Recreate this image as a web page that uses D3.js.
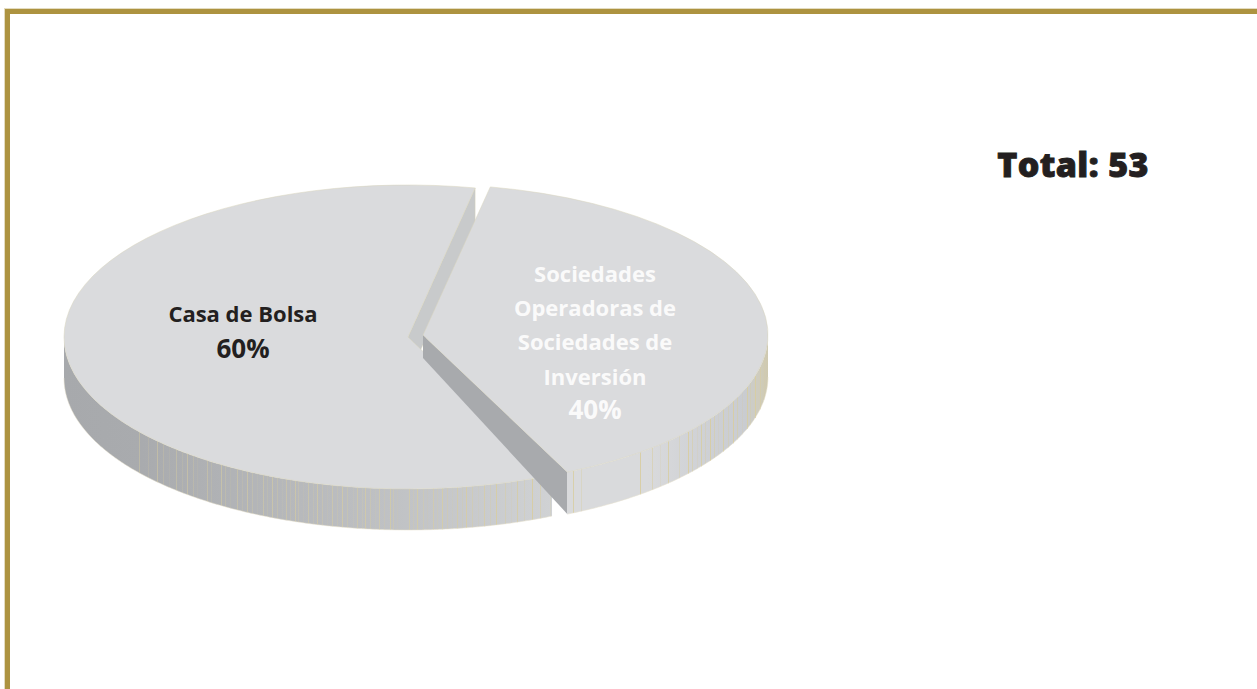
<!DOCTYPE html>
<html><head><meta charset="utf-8">
<script src="https://cdn.jsdelivr.net/npm/d3@7"></script>
<style>html,body{margin:0;padding:0;background:#fff;overflow:hidden}svg{display:block}text{font-family:"Open Sans",sans-serif;font-weight:700;text-anchor:middle}</style>
</head><body><svg id="c" width="1257" height="689"></svg>
<script>
// values
const categories = ["Sociedades Operadoras de Sociedades de Inversión", "Casa de Bolsa"];
const shares = [40, 60];
const total = 53;
const labelLinesRight = ["Sociedades", "Operadoras de", "Sociedades de", "Inversión"];
const labelLinesLeft = ["Casa de Bolsa"];
// decorative rib positions (x pixel)
const ribsLeft = [139,148,157,163,169,176,182,187,193,197,207,211,221,225,230,237,242,247,252,257,263,267,272,277,282,286,290,295,298,303,308,313,317,322,327,332,337,342,347,353,357,362,365,370,375,379,384,390,393,397,409,413,417,423,427,433,437,442,447,452,457,462,466,472,478,484,490,496,505,511,517,524,532,540,550];
const ribsRight = [573,581,640,652,660,668,679,688,692,697,701,705,710,714,718,723,728,733,737,742,747,750,755,760,764];

const svg = d3.select("#c");
const W = 1257, H = 689;
const deg = Math.PI/180;
const startAt = 11.25*deg;
const pie = d3.pie().sort(null).value(d=>d).startAngle(startAt).endAngle(startAt+2*Math.PI);
const arcs = pie(shares);
const R = 100;
const arc = d3.arc().innerRadius(0).outerRadius(R);
const geo = [
  {cx:423, cy:335, rx:345, ry:151, depth:42}, // right slice
  {cx:408, cy:337, rx:344, ry:152, depth:41}  // left slice
];
const ex = (g,a)=>g.cx + g.rx*Math.sin(a);
const ey = (g,a)=>g.cy - g.ry*Math.cos(a);

// gradients
const defs = svg.append("defs");
function grad(id,x1,x2,stops){
  const lg = defs.append("linearGradient").attr("id",id).attr("gradientUnits","userSpaceOnUse")
    .attr("x1",x1).attr("x2",x2).attr("y1",0).attr("y2",0);
  stops.forEach(s=>lg.append("stop").attr("offset",s[0]).attr("stop-color",s[1]));
}
grad("wl",64,552,[[0,"#a7a9ac"],[0.16,"#a9abae"],[0.6,"#bcbec1"],[1,"#d0d2d4"]]);
grad("wr",567,769,[[0,"#d9dadc"],[0.4,"#d9dadc"],[0.7,"#ced0d4"],[0.88,"#c9ccd1"],[0.95,"#cfccbd"],[1,"#cfc9ae"]]);

// border
svg.append("rect").attr("x",4).attr("y",8).attr("width",W-4).attr("height",H-8).attr("fill","#e4dcc0");
svg.append("rect").attr("x",5).attr("y",9).attr("width",W-5).attr("height",H-9).attr("fill","#ad9340");
svg.append("rect").attr("x",10).attr("y",14).attr("width",W-10).attr("height",H-14).attr("fill","#fff");

function wall(g,a0,a1,fill,ribs){
  const n = d3.range(a0,a1,0.5*deg).concat([a1]);
  const area = d3.area().x(a=>ex(g,a)).y0(a=>ey(g,a)).y1(a=>ey(g,a)+g.depth).curve(d3.curveLinear);
  svg.append("path").attr("d",area(n)).attr("fill",fill);
  const yAt = x=>g.cy+g.ry*Math.sqrt(Math.max(0,1-((x-g.cx)/g.rx)**2));
  const fade = d3.scaleLinear().domain([139,420,560]).range([0.6,0.85,1.2]).clamp(true);
  svg.append("g").selectAll("line").data(ribs).join("line")
    .attr("x1",d=>Math.round(d)+0.5).attr("x2",d=>Math.round(d)+0.5)
    .attr("y1",d=>yAt(d)).attr("y2",d=>yAt(d)+g.depth)
    .attr("stroke","#d8cda0").attr("stroke-width",0.9)
    .attr("stroke-opacity",(d,i)=>[0.75,0.35,0.9,0.5,0.2][i%5]*fade(d));
  const edge = d3.line().x(a=>ex(g,a)).y(a=>ey(g,a)+g.depth);
  svg.append("path").attr("d",edge(n)).attr("fill","none").attr("stroke","#e6e1cc").attr("stroke-width",0.5);
}
function drawTop(g,d){
  svg.append("path").attr("d",arc(d))
    .attr("transform",`translate(${g.cx},${g.cy}) scale(${g.rx/R},${g.ry/R})`)
    .attr("fill","#dadbdd").attr("stroke","#d9d5bc").attr("stroke-width",0.5)
    .attr("vector-effect","non-scaling-stroke");
}
const [rightArc,leftArc] = arcs;
const gR = geo[0], gL = geo[1];

// left slice: cut face under the upper edge, front wall, top
const lEnd = leftArc.endAngle;
svg.append("path")
  .attr("d",d3.line()([[gL.cx,gL.cy],[ex(gL,lEnd),ey(gL,lEnd)],[ex(gL,lEnd),ey(gL,lEnd)+gL.depth],[gL.cx,gL.cy+gL.depth]])+"Z")
  .attr("fill","#c8cacb").attr("stroke","#d6d1b4").attr("stroke-width",0.4);
wall(gL,leftArc.startAngle,270*deg,"url(#wl)",ribsLeft);
drawTop(gL,leftArc);

// right slice: cut face along the lower edge, front wall, top
const rEnd = rightArc.endAngle;
svg.append("path")
  .attr("d",d3.line()([[gR.cx,gR.cy],[ex(gR,rEnd),ey(gR,rEnd)],[ex(gR,rEnd),ey(gR,rEnd)+gR.depth],[gR.cx,gR.cy+gR.depth*0.55]])+"Z")
  .attr("fill","#a8aaad");
wall(gR,90*deg,rEnd,"url(#wr)",ribsRight);
drawTop(gR,rightArc);

// labels
const dark = "#231f20", light = "#fafafa";
svg.append("text").attr("x",243).attr("y",322).attr("font-size",22).attr("fill",dark).text(labelLinesLeft[0]);
svg.append("text").attr("x",243).attr("y",358).attr("font-size",26).attr("fill",dark).text(shares[1]+"%");
const rightBase = [282,316,350,385];
svg.append("g").selectAll("text").data(labelLinesRight).join("text")
  .attr("x",595).attr("y",(d,i)=>rightBase[i]).attr("font-size",22).attr("fill",light).text(d=>d);
svg.append("text").attr("x",595).attr("y",419).attr("font-size",26).attr("fill",light).text(shares[0]+"%");
svg.append("text").attr("x",1073).attr("y",177).attr("font-size",34).attr("fill",dark)
  .attr("stroke",dark).attr("stroke-width",0.9).attr("letter-spacing",0.4)
  .style("font-weight",800).text("Total: "+total);
</script></body></html>
